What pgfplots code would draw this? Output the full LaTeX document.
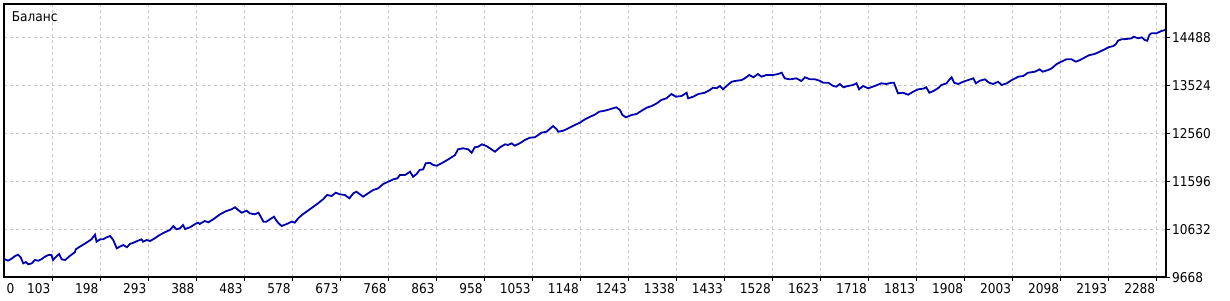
\documentclass[border=0pt]{standalone}
\usepackage{fontspec}
\setmainfont{DejaVu Sans Condensed}
\usepackage{pgfplots}
\pgfplotsset{compat=1.18}
\definecolor{balblue}{RGB}{0,0,176}
\definecolor{gridgray}{RGB}{200,200,200}
\begin{document}
\begin{tikzpicture}
\useasboundingbox (-4pt,-23pt) rectangle (1226pt,277pt);
\begin{axis}[
  at={(0pt,0pt)}, anchor=south west,
  scale only axis, width=1162pt, height=273pt,
  xmin=8, xmax=2306, ymin=9668, ymax=15151,
  xtick={103,198,...,2288},
  ytick={9668,10632,11596,12560,13524,14488},
  scaled y ticks=false, scaled x ticks=false,
  extra x ticks={8}, extra x tick labels={0},
  extra x tick style={grid=none, major tick length=0pt,
     xticklabel style={anchor=north west, xshift=4pt, yshift=-4pt}},
  xtick pos=bottom, ytick pos=right, yticklabel pos=right,
  tick align=outside, major tick length=4pt,
  tick style={black, line width=0.8pt},
  grid=major,
  grid style={gridgray, line width=0.9pt, dash pattern=on 3pt off 3pt},
  axis line style={black, line width=1.4pt},
  /pgf/number format/assume math mode=true,
  /pgf/number format/1000 sep={},
  yticklabel={\pgfmathprintnumber[fixed, precision=0, 1000 sep={}]{\tick}},
  every tick label/.append style={font=\fontsize{13.5}{16}\selectfont, text=black},
  xticklabel style={anchor=north east, inner sep=0pt, xshift=-1.5pt, yshift=-2pt},
  yticklabel style={anchor=west, inner sep=0pt, xshift=2pt, yshift=-1pt},
  clip=true,
]
\addplot[balblue, line width=1.8pt] coordinates {
(8,10020) (10,10024) (16,9995) (23,10036) (30,10090) (36,10116) (41,10064) (46,9943)
(51,9969) (56,9923) (63,9943) (69,10009) (76,9995) (82,10024) (89,10076) (96,10110)
(102,10110) (105,10009) (111,10076) (117,10130) (122,10024) (129,10009) (138,10090)
(148,10164) (150,10224) (158,10277) (171,10357) (181,10425) (188,10518) (191,10377)
(198,10425) (204,10425) (211,10465) (218,10491) (224,10411) (231,10244) (237,10277)
(244,10311) (251,10265) (257,10331) (264,10357) (273,10397) (280,10425) (283,10377)
(290,10411) (297,10391) (306,10445) (316,10512) (326,10566) (336,10612) (343,10692)
(349,10626) (356,10646) (362,10712) (366,10632) (376,10666) (386,10732) (392,10759)
(395,10732) (405,10793) (412,10767) (422,10827) (435,10927) (448,10994) (458,11028)
(465,11068) (471,11014) (478,10959) (488,10999) (494,10947) (504,10927) (511,10959)
(514,10913) (521,10779) (527,10779) (534,10827) (542,10879) (546,10813) (550,10759)
(557,10692) (567,10732) (577,10779) (583,10759) (588,10827) (597,10913) (606,10979)
(620,11080) (629,11148) (639,11229) (647,11315) (656,11295) (664,11361) (672,11329)
(682,11315) (691,11249) (699,11349) (705,11381) (712,11329) (718,11281) (728,11349)
(738,11415) (748,11449) (758,11536) (768,11582) (778,11630) (786,11650)
(791,11716) (801,11716) (811,11783) (817,11682) (824,11737) (830,11817) (837,11831)
(842,11951) (850,11963) (857,11917) (864,11903) (877,11972) (890,12052) (900,12118)
(906,12233) (916,12253) (926,12233) (933,12164) (939,12273) (946,12285) (953,12333)
(962,12299) (969,12253) (979,12184) (989,12273) (999,12333) (1005,12319) (1012,12353)
(1018,12305) (1028,12353) (1038,12419) (1048,12466) (1058,12474) (1071,12566)
(1081,12586) (1094,12701) (1101,12634) (1104,12586) (1114,12606) (1124,12654)
(1137,12721) (1147,12767) (1157,12835) (1167,12887)
(1177,12931) (1185,12988) (1196,13008) (1206,13036) (1219,13076) (1226,13022)
(1231,12921) (1238,12875) (1249,12921) (1259,12942) (1269,13008) (1279,13068)
(1289,13102) (1299,13156) (1308,13223) (1318,13257) (1328,13343) (1337,13289)
(1348,13303) (1358,13369) (1361,13257) (1371,13289) (1381,13343) (1394,13369)
(1404,13424) (1410,13470) (1417,13458) (1424,13504) (1430,13438) (1437,13504)
(1447,13590) (1457,13610) (1467,13624) (1473,13658) (1482,13725) (1490,13679)
(1499,13745) (1506,13691) (1516,13725) (1529,13725) (1539,13745) (1546,13771)
(1552,13658) (1562,13638)
(1575,13658) (1585,13604) (1592,13679) (1602,13638) (1612,13638) (1621,13610)
(1628,13570) (1638,13570) (1648,13504) (1654,13490) (1661,13544) (1668,13478)
(1677,13504) (1687,13524) (1694,13558) (1699,13438) (1707,13504) (1717,13458)
(1730,13504) (1743,13558) (1753,13544) (1763,13570) (1768,13570) (1776,13357)
(1786,13369) (1796,13329) (1806,13389) (1816,13438) (1826,13450) (1832,13478)
(1838,13369) (1846,13403) (1855,13458) (1862,13524) (1872,13558) (1877,13624)
(1882,13679) (1887,13570) (1895,13544) (1905,13590) (1915,13624) (1925,13658)
(1930,13558) (1938,13610) (1948,13638) (1956,13570) (1964,13544) (1974,13590)
(1981,13524) (1991,13558) (2001,13624) (2014,13691) (2024,13705) (2033,13771)
(2047,13791) (2056,13839) (2062,13791) (2073,13825) (2080,13859) (2090,13946)
(2099,13992) (2109,14040) (2119,14040) (2128,13992) (2136,14026) (2146,14080)
(2155,14126) (2165,14147) (2175,14193) (2185,14241) (2192,14281) (2202,14307)
(2207,14347) (2211,14414) (2218,14442) (2228,14448) (2238,14462) (2242,14494)
(2251,14462) (2258,14482) (2264,14428) (2269,14414) (2273,14528) (2277,14562)
(2287,14562) (2297,14608) (2304,14628)
};
\node[anchor=base west, inner sep=0pt, font=\fontsize{13.5}{16}\selectfont]
  at ([xshift=7.7pt, yshift=-17.7pt]rel axis cs:0,1) {Баланс};
\end{axis}
\end{tikzpicture}
\end{document}
